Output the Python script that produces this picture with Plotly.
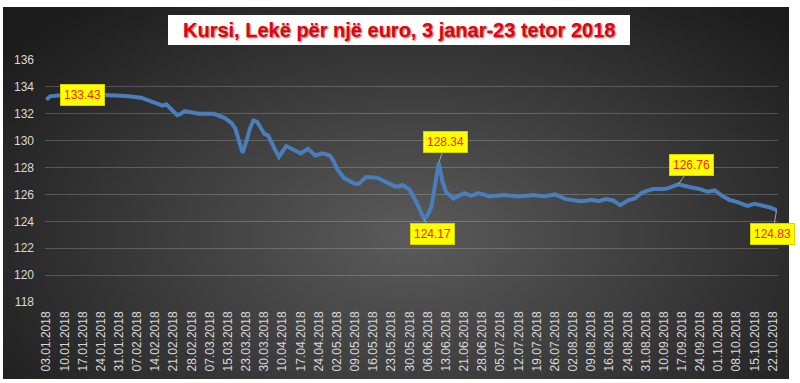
import base64, struct, zlib
import numpy as np
import plotly.graph_objects as go

# ---------------- data ----------------
tick_labels = ["03.01.2018", "10.01.2018", "17.01.2018", "24.01.2018", "31.01.2018",
               "07.02.2018", "14.02.2018", "21.02.2018", "28.02.2018", "07.03.2018",
               "15.03.2018", "23.03.2018", "30.03.2018", "10.04.2018", "17.04.2018",
               "24.04.2018", "02.05.2018", "09.05.2018", "16.05.2018", "23.05.2018",
               "30.05.2018", "06.06.2018", "13.06.2018", "21.06.2018", "28.06.2018",
               "05.07.2018", "12.07.2018", "19.07.2018", "26.07.2018", "02.08.2018",
               "09.08.2018", "16.08.2018", "24.08.2018", "31.08.2018", "10.09.2018",
               "17.09.2018", "24.09.2018", "01.10.2018", "08.10.2018", "15.10.2018",
               "22.10.2018"]
tick_index = [0, 5, 10, 15, 20, 25, 30, 35, 40, 45, 50, 55, 60, 65, 70, 75, 80, 85, 90, 95,
              100, 105, 110, 115, 120, 125, 130, 135, 140, 145, 150, 155, 160, 165, 170,
              175, 180, 185, 190, 195, 200]

# trading-day index of each reading and the rate (Lek per euro)
day_index = [0, 1, 3, 6, 10, 16, 22, 26, 30, 32, 33, 34, 36, 37, 38, 42, 46, 49, 51, 52,
             54, 55, 56, 57, 58, 60, 61, 63, 64, 66, 68, 70, 72, 74, 76, 78, 79, 80, 82,
             83, 85, 86, 88, 91, 94, 96, 97, 98, 100, 102, 104, 105, 106, 108, 109, 110,
             112, 115, 117, 119, 122, 126, 130, 134, 137, 140, 143, 147, 149, 150, 152,
             154, 156, 158, 160, 162, 164, 167, 170, 171, 173, 174, 177, 180, 182, 184,
             186, 188, 190, 192, 193, 195, 197, 199, 201]
rate = [133.03, 133.30, 133.36, 133.41, 133.43, 133.40, 133.33, 133.20, 132.85, 132.60,
        132.70, 132.45, 131.90, 132.00, 132.20, 132.00, 132.00, 131.70, 131.30, 130.90,
        129.10, 129.90, 130.90, 131.50, 131.40, 130.50, 130.40, 129.30, 128.80, 129.60,
        129.30, 129.05, 129.40, 128.90, 129.05, 128.90, 128.50, 127.90, 127.20, 127.05,
        126.80, 126.80, 127.30, 127.25, 126.90, 126.60, 126.60, 126.70, 126.35, 125.35,
        124.17, 124.50, 125.10, 128.34, 127.00, 126.20, 125.70, 126.10, 125.90, 126.10,
        125.85, 125.95, 125.85, 125.95, 125.85, 126.00, 125.65, 125.50, 125.55, 125.60,
        125.50, 125.65, 125.55, 125.20, 125.55, 125.70, 126.15, 126.40, 126.40, 126.45,
        126.65, 126.76, 126.55, 126.40, 126.20, 126.30, 125.90, 125.60, 125.45, 125.20,
        125.15, 125.30, 125.20, 125.05, 124.83]

y_ticks = [118, 120, 122, 124, 126, 128, 130, 132, 134, 136]
title_text = "Kursi, Lekë për një euro, 3 janar-23 tetor 2018"

# labelled readings: (day index, label offset x px, offset y px, show leader)
labelled = [(10, 0, 0, False), (104, 8, 15, True), (108, 7, -21, True),
            (174, 13, -19, True), (201, -4, 24, True)]

# ---------------- geometry helpers ----------------
W, H = 800, 383
PL, PR, PT, PB = 45, 778, 60, 302


def px_x(p):
    return (p - PL) / (PR - PL)


def px_y(p):
    return (PB - p) / (PB - PT)


def make_png(arr):
    h, w, _ = arr.shape
    raw = b"".join(b"\x00" + arr[r].astype(np.uint8).tobytes() for r in range(h))

    def chunk(tag, data):
        return (struct.pack(">I", len(data)) + tag + data +
                struct.pack(">I", zlib.crc32(tag + data) & 0xffffffff))
    return (b"\x89PNG\r\n\x1a\n" +
            chunk(b"IHDR", struct.pack(">IIBBBBB", w, h, 8, 2, 0, 0, 0)) +
            chunk(b"IDAT", zlib.compress(raw, 9)) + chunk(b"IEND", b""))


# radial dark-grey gradient for the chart area
gw, gh = 200, 95
yy, xx = np.mgrid[0:gh, 0:gw]
dx = (xx / (gw - 1) - 0.52) / 0.66
dy = (yy / (gh - 1) - 0.62) / 0.85
d = np.clip(np.sqrt(dx ** 2 + dy ** 2), 0, 1)
c_in = np.array([92, 92, 92], float)
c_out = np.array([28, 28, 28], float)
img = c_in[None, None, :] * (1 - d[..., None]) + c_out[None, None, :] * d[..., None]
png_uri = "data:image/png;base64," + base64.b64encode(make_png(img)).decode()

# ---------------- figure ----------------
fig = go.Figure()
fig.add_trace(go.Scatter(x=day_index, y=rate, mode="lines",
                         line=dict(color="#4a7ebb", width=4, shape="linear"),
                         hoverinfo="x+y", showlegend=False))

annotations = []
rate_at = dict(zip(day_index, rate))
for idx, ox, oy, leader in labelled:
    annotations.append(dict(
        x=idx, y=rate_at[idx], xref="x", yref="y",
        text=f"{rate_at[idx]:.2f}",
        showarrow=True, arrowhead=0, arrowwidth=1,
        arrowcolor="#a6a6a6" if leader else "rgba(0,0,0,0)",
        ax=ox, ay=oy, standoff=0,
        bgcolor="#ffff00", bordercolor="#d4d400", borderwidth=1, borderpad=3,
        font=dict(family="Liberation Sans, Arial, sans-serif", size=12, color="#ff2000"),
    ))

# title
annotations.append(dict(
    x=px_x(399), y=px_y(30), xref="paper", yref="paper", showarrow=False,
    text=f"<b>{title_text}</b>", xanchor="center", yanchor="middle",
    font=dict(family="Liberation Sans, Arial, sans-serif", size=20, color="#e8000b",
              shadow="1px 1px 2px rgba(0,0,0,0.6)"),
))

fig.update_layout(
    width=W, height=H,
    margin=dict(l=PL, r=W - PR, t=PT, b=H - PB, pad=0),
    paper_bgcolor="white", plot_bgcolor="rgba(0,0,0,0)",
    showlegend=False,
    annotations=annotations,
    images=[dict(source=png_uri, xref="paper", yref="paper",
                 x=px_x(3), y=px_y(7), sizex=px_x(789) - px_x(3), sizey=px_y(7) - px_y(379),
                 xanchor="left", yanchor="top", sizing="stretch", layer="below")],
    shapes=[dict(type="rect", xref="paper", yref="paper",
                 x0=px_x(168), x1=px_x(630), y0=px_y(45), y1=px_y(15),
                 fillcolor="white", line=dict(width=0), layer="above")],
    xaxis=dict(range=[-0.4, 201.4], tickmode="array", tickvals=tick_index,
               ticktext=tick_labels, tickangle=-90, showgrid=False, zeroline=False,
               showline=False, ticks="", ticklabelstandoff=6,
               tickfont=dict(family="Liberation Sans, Arial, sans-serif", size=12,
                             color="#d9d9d9")),
    yaxis=dict(range=[118, 136], tickmode="array", tickvals=y_ticks,
               showgrid=True, gridcolor="rgba(255,255,255,0.20)", gridwidth=1,
               zeroline=False, showline=False, ticks="", ticklabelstandoff=10,
               tickfont=dict(family="Liberation Sans, Arial, sans-serif", size=12,
                             color="#d9d9d9")),
)

fig.write_html("out.html", config={"displayModeBar": False},
               post_script="document.body.style.margin='0';document.body.style.overflow='hidden';")
